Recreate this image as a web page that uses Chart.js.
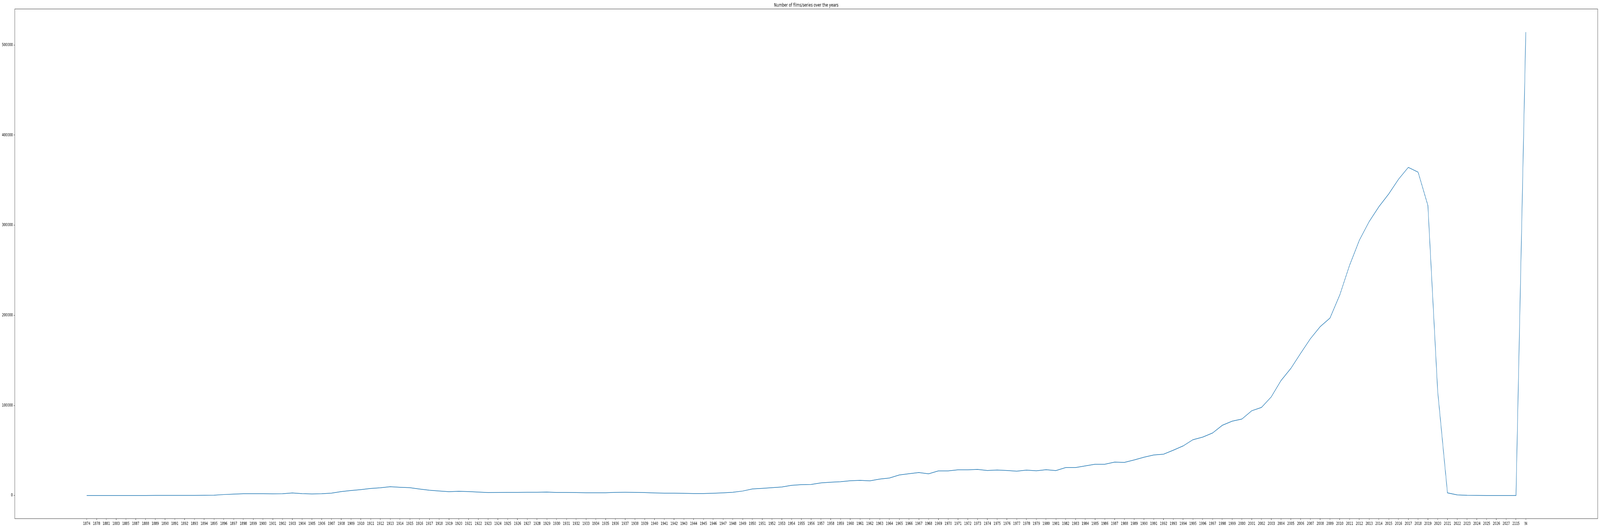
<!DOCTYPE html>
<html>
<head>
<meta charset="utf-8">
<script src="https://cdn.jsdelivr.net/npm/chart.js@4/dist/chart.umd.min.js"></script>
<style>
  html, body { margin: 0; padding: 0; background: #fff; overflow: hidden; }
  canvas { display: block; }
</style>
</head>
<body>
<!-- drawn at 5639x1352, shown at the size of the window -->
<canvas id="chart" width="5639" height="1352" style="width: 100vw; height: 100vh;"></canvas>
<script>
const chartTitle = "Number of films/series over the years";

// release years as they come out of the dataset (category labels)
const years = [
  '1874', '1878', '1881', '1883', '1885',
  '1887', '1888', '1889',
  '1890', '1891', '1892', '1893', '1894', '1895', '1896', '1897', '1898', '1899',
  '1900', '1901', '1902', '1903', '1904', '1905', '1906', '1907', '1908', '1909',
  '1910', '1911', '1912', '1913', '1914', '1915', '1916', '1917', '1918', '1919',
  '1920', '1921', '1922', '1923', '1924', '1925', '1926', '1927', '1928', '1929',
  '1930', '1931', '1932', '1933', '1934', '1935', '1936', '1937', '1938', '1939',
  '1940', '1941', '1942', '1943', '1944', '1945', '1946', '1947', '1948', '1949',
  '1950', '1951', '1952', '1953', '1954', '1955', '1956', '1957', '1958', '1959',
  '1960', '1961', '1962', '1963', '1964', '1965', '1966', '1967', '1968', '1969',
  '1970', '1971', '1972', '1973', '1974', '1975', '1976', '1977', '1978', '1979',
  '1980', '1981', '1982', '1983', '1984', '1985', '1986', '1987', '1988', '1989',
  '1990', '1991', '1992', '1993', '1994', '1995', '1996', '1997', '1998', '1999',
  '2000', '2001', '2002', '2003', '2004', '2005', '2006', '2007', '2008', '2009',
  '2010', '2011', '2012', '2013', '2014', '2015', '2016', '2017', '2018', '2019',
  '2020', '2021', '2022', '2023', '2024', '2025', '2026', '2027',
  '2115', '\\N'
];

// number of titles per year
const counts = [
  1, 2, 3, 5, 8,
  15, 20, 30,
  40, 50, 60, 90, 200, 300, 1000, 1450, 1900, 1900,
  1900, 1800, 1900, 2750, 2000, 1730, 1900, 2600, 4330, 5500,
  6500, 7800, 8500, 9700, 9100, 8660, 7080, 5780, 5000, 4200,
  4600, 4330, 3750, 3180, 3320, 3470, 3470, 3600, 3600, 3750,
  3320, 3320, 3180, 3030, 3030, 3030, 3470, 3600, 3470, 3180,
  2740, 2600, 2600, 2310, 2170, 2170, 2450, 2890, 3600, 4900,
  7200, 7900, 8660, 9400, 11260, 12000, 12270, 14000, 14700, 15300,
  16300, 16750, 16200, 18200, 19350, 22700, 24100, 25400, 24000, 27300,
  27300, 28450, 28450, 28900, 27700, 28300, 27700, 27000, 28200, 27400,
  28600, 27600, 31000, 31000, 32800, 34650, 34650, 37000, 36700, 39400,
  42450, 44900, 45800, 50250, 55000, 61900, 64800, 69300, 77900, 82400,
  84800, 94000, 97700, 109400, 127600, 141000, 157800, 174000, 187400, 196900,
  222600, 255500, 283300, 304000, 320600, 334700, 351000, 364200, 358900, 321900,
  115700, 2900, 600, 150, 40, 20, 10, 5,
  1, 514300
];

const yTicks = [0, 100000, 200000, 300000, 400000, 500000];

Chart.defaults.font.family = "'DejaVu Sans', sans-serif";
Chart.defaults.font.size = 10;
Chart.defaults.color = '#000';

// matplotlib style: 5% margins on both axes
const last = years.length - 1;
const xPad = last * 0.05;
const yMax = Math.max(...counts);
const yPad = yMax * 0.05;

const framePlugin = {
  id: 'frame',
  afterDraw(chart) {
    const { ctx, chartArea } = chart;
    ctx.save();
    ctx.strokeStyle = '#000';
    ctx.lineWidth = 0.8;
    ctx.strokeRect(chartArea.left, chartArea.top,
      chartArea.right - chartArea.left, chartArea.bottom - chartArea.top);
    ctx.font = "12px 'DejaVu Sans', sans-serif";
    ctx.fillStyle = '#000';
    ctx.textAlign = 'center';
    ctx.textBaseline = 'alphabetic';
    ctx.fillText(chartTitle, (chartArea.left + chartArea.right) / 2, chartArea.top - 6);
    ctx.restore();
  }
};

new Chart(document.getElementById('chart'), {
  type: 'line',
  data: {
    datasets: [{
      label: 'count',
      data: counts.map((c, i) => ({ x: i, y: c })),
      borderColor: '#1f77b4',
      borderWidth: 1.5,
      pointRadius: 0,
      tension: 0,
      fill: false
    }]
  },
  options: {
    responsive: false,
    devicePixelRatio: 1,
    animation: false,
    layout: { padding: { left: 0, right: 8, top: 23, bottom: 0 } },
    plugins: {
      legend: { display: false },
      tooltip: { enabled: false }
    },
    scales: {
      x: {
        type: 'linear',
        min: -xPad,
        max: last + xPad,
        border: { display: false },
        grid: {
          drawOnChartArea: false,
          drawTicks: true,
          tickLength: 3.5,
          color: '#000',
          lineWidth: 0.8
        },
        ticks: {
          autoSkip: false,
          maxRotation: 0,
          minRotation: 0,
          padding: 3.5,
          callback: (v) => years[v]
        },
        afterBuildTicks: (scale) => {
          scale.ticks = years.map((_, i) => ({ value: i }));
        },
        afterFit: (scale) => { scale.height = 24; }
      },
      y: {
        type: 'linear',
        min: -yPad,
        max: yMax + yPad,
        border: { display: false },
        grid: {
          drawOnChartArea: false,
          drawTicks: true,
          tickLength: 3.5,
          color: '#000',
          lineWidth: 0.8
        },
        ticks: {
          padding: 3.5,
          callback: (v) => String(v)
        },
        afterBuildTicks: (scale) => {
          scale.ticks = yTicks.map(v => ({ value: v }));
        },
        afterFit: (scale) => { scale.width = 52; }
      }
    }
  },
  plugins: [framePlugin]
});
</script>
</body>
</html>
